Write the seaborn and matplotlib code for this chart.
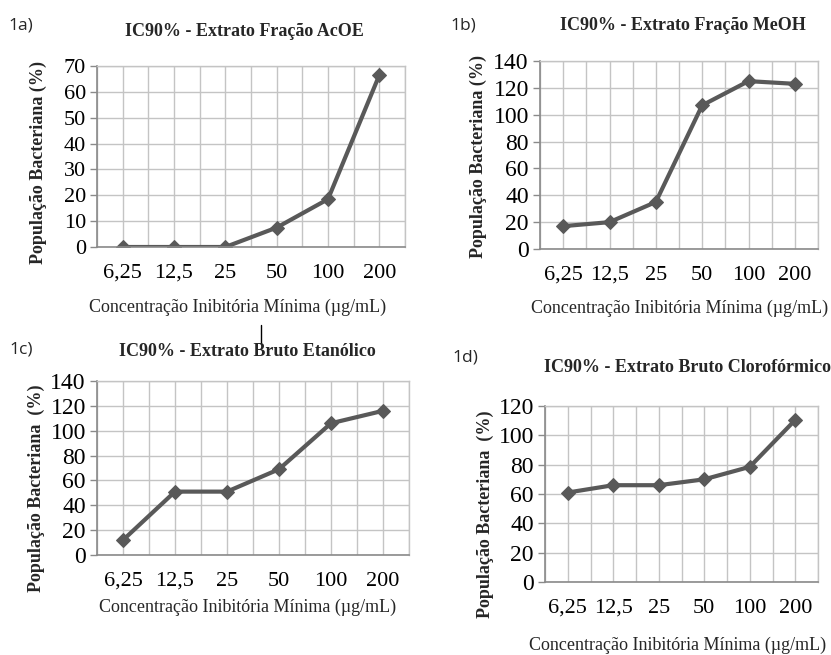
import matplotlib
matplotlib.use("Agg")
import matplotlib.pyplot as plt
import seaborn as sns
import pandas as pd
import numpy as np
from matplotlib.lines import Line2D

# ---- data ----
concentrations = ["6,25", "12,5", "25", "50", "100", "200"]
acoe = [0, 0, 0, 7.5, 18.5, 66.5]
meoh = [17, 20, 35, 107, 125, 123]
etanolico = [12, 51, 51, 69, 106, 116]
cloroformico = [61, 66, 66, 70, 78.5, 110.5]

titles = ["IC90% - Extrato Fração AcOE", "IC90% - Extrato Fração MeOH",
          "IC90% - Extrato Bruto Etanólico", "IC90% - Extrato Bruto Clorofórmico"]
panel_labels = ["1a)", "1b)", "1c)", "1d)"]
ylabels = ["População Bacteriana (%)", "População Bacteriana (%)",
           "População Bacteriana  (%)", "População Bacteriana  (%)"]
xlabel = "Concentração Inibitória Mínima (µg/mL)"
ymax = [70, 140, 140, 120]
ystep = [10, 20, 20, 20]

sns.set_theme(style="white")
plt.rcParams['font.family'] = ['Liberation Serif', 'DejaVu Serif']

W, H = 831, 655
fig = plt.figure(figsize=(W / 100, H / 100), dpi=100)

# plot boxes in pixels: left, right, top, bottom
boxes = [(97, 405, 66, 247), (540, 818, 61, 249), (97, 409, 381, 555), (545, 818, 406, 582)]
# text positions (pixels)
title_pos = [(244, 31), (683, 25), (247, 352), (687, 368)]
label_pos = [(21, 25), (463, 25), (21, 349), (465, 358)]
xlab_pos = [(238, 307), (680, 308), (248, 607), (678, 645)]
ylab_pos = [(38, 163), (478, 156), (36, 488), (485, 514)]
ytick_size = [16, 17, 17, 17]

series = [acoe, meoh, etanolico, cloroformico]
line_color = "#595959"
grid_color = "#c4c4c4"
spine_color = "#8a8a8a"

def fx(px):
    return px / W

def fy(py):
    return 1 - py / H

for i in range(4):
    l, r, t, b = boxes[i]
    ax = fig.add_axes([fx(l), fy(b), (r - l) / W, (b - t) / H])
    df = pd.DataFrame({"conc": concentrations, "pop": series[i]})
    sns.lineplot(data=df, x="conc", y="pop", ax=ax, color=line_color, lw=3,
                 marker="D", markersize=7, markeredgecolor=line_color, sort=False)
    ax.set_xlim(-0.5, 5.5)
    ax.set_ylim(0, ymax[i])
    ax.set_yticks(np.arange(0, ymax[i] + 1, ystep[i]))
    ax.set_xticks(range(6))
    ax.set_xticklabels(concentrations)
    for xv in np.arange(-0.5, 5.51, 0.5):
        ax.axvline(xv, color=grid_color, lw=1, zorder=0)
    for yv in np.arange(0, ymax[i] + 1, ystep[i]):
        ax.axhline(yv, color=grid_color, lw=1, zorder=0)
    ax.set_xlabel("")
    ax.set_ylabel("")
    for s in ["top", "right"]:
        ax.spines[s].set_color(grid_color)
        ax.spines[s].set_linewidth(1)
    for s in ["left", "bottom"]:
        ax.spines[s].set_color(spine_color)
        ax.spines[s].set_linewidth(1.2)
    ax.tick_params(axis="y", length=5, width=1, color=spine_color, pad=3,
                   labelsize=ytick_size[i], labelcolor="black", left=True)
    ax.tick_params(axis="x", length=0, pad=12, labelsize=16, labelcolor="black")
    ax.set_axisbelow(True)

    fig.text(fx(title_pos[i][0]), fy(title_pos[i][1]), titles[i], ha="center", va="center",
             fontsize=13, fontweight="bold")
    fig.text(fx(label_pos[i][0]), fy(label_pos[i][1]), panel_labels[i], ha="center", va="center",
             fontsize=12.5, family=["Open Sans", "DejaVu Sans"])
    fig.text(fx(xlab_pos[i][0]), fy(xlab_pos[i][1]), xlabel, ha="center", va="center",
             fontsize=13)
    fig.text(fx(ylab_pos[i][0]), fy(ylab_pos[i][1]), ylabels[i], ha="center", va="center",
             fontsize=13, fontweight="bold", rotation=90)

# small stray vertical mark above panel 1c title
fig.add_artist(Line2D([fx(261), fx(261)], [fy(325), fy(344)], color="black", lw=1))

fig.savefig("out.png", dpi=100)
